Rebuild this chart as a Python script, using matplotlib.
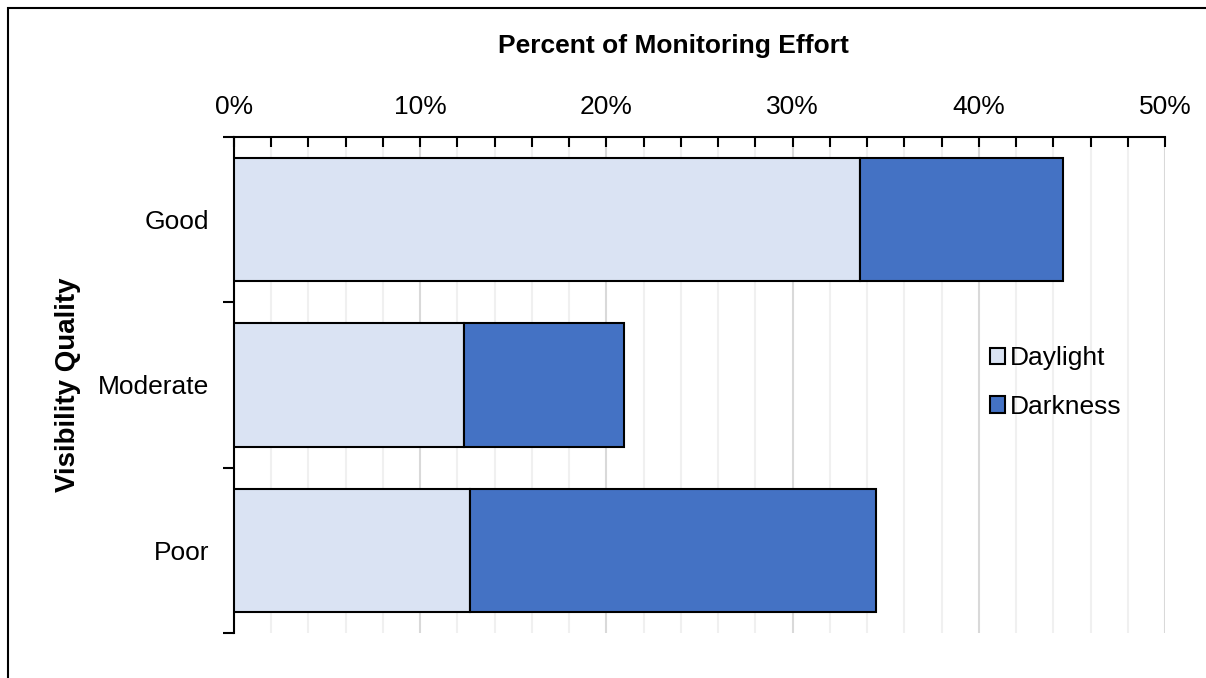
import matplotlib
matplotlib.use("Agg")
import numpy as np
from matplotlib import pyplot as plt
from matplotlib.ticker import MultipleLocator, FuncFormatter, FixedLocator
from matplotlib.patches import Rectangle

plt.rcParams['font.family'] = ['Liberation Sans', 'DejaVu Sans']

categories = ["Good", "Moderate", "Poor"]
daylight = [33.6, 12.35, 12.7]
darkness = [10.9, 8.6, 21.8]
series_names = ["Daylight", "Darkness"]
colors = ["#dae3f3", "#4472c4"]

fs = 19

fig = plt.figure(figsize=(12.06, 6.78), dpi=100)
ax = fig.add_axes([234 / 1206, 1 - 633 / 678, (1165 - 234) / 1206, (633 - 137) / 678])

y = np.arange(len(categories))
ax.barh(y, daylight, height=0.745, color=colors[0], edgecolor="black", linewidth=1.5,
        label=series_names[0], zorder=3)
ax.barh(y, darkness, left=daylight, height=0.745, color=colors[1], edgecolor="black",
        linewidth=1.5, label=series_names[1], zorder=3)

ax.set_xlim(0, 50)
ax.set_ylim(len(categories) - 0.5, -0.5)

# x axis on top
ax.xaxis.tick_top()
ax.xaxis.set_label_position("top")
ax.xaxis.set_major_locator(MultipleLocator(10))
ax.xaxis.set_minor_locator(MultipleLocator(2))
ax.xaxis.set_major_formatter(FuncFormatter(lambda v, p: "%d%%" % v))
ax.tick_params(axis="x", which="both", direction="in", length=7, width=1.5, colors="black",
               labelsize=fs, pad=13)
ax.grid(axis="x", which="major", color="#d9d9d9", linewidth=1.5, zorder=0)
ax.grid(axis="x", which="minor", color="#f0f0f0", linewidth=1.5, zorder=0)
ax.set_xlabel("Percent of Monitoring Effort", fontsize=fs, fontweight="bold")
ax.xaxis.set_label_coords(0.4715, 1.0 + 91 / 496, transform=ax.transAxes)
ax.xaxis.label.set_va("center")

# y axis: boundary ticks, labels centred on bars
ax.yaxis.set_major_locator(FixedLocator(np.arange(-0.5, len(categories), 1.0)))
ax.yaxis.set_major_formatter(FuncFormatter(lambda v, p: ""))
ax.yaxis.set_minor_locator(FixedLocator(y))
ax.set_yticklabels(categories, minor=True)
ax.tick_params(axis="y", which="major", direction="out", length=8, width=1.5)
ax.tick_params(axis="y", which="minor", length=0, labelsize=fs, pad=18)
ax.set_ylabel("Visibility Quality", fontsize=20, fontweight="bold", labelpad=12)

for s in ["right", "bottom"]:
    ax.spines[s].set_visible(False)
for s in ["top", "left"]:
    ax.spines[s].set_linewidth(1.5)

leg = ax.legend(loc="upper left", bbox_to_anchor=(0.812, 0.578), frameon=False, fontsize=fs,
                handlelength=0.57, handleheight=0.57, handletextpad=0.2, labelspacing=0.93,
                borderpad=0, borderaxespad=0)

# outer border of the chart area
fig.patches.append(Rectangle((8 / 1206, -0.1), 1.2, 1 - 8 / 678 + 0.1, transform=fig.transFigure,
                             fill=False, edgecolor="black", linewidth=1.5))

fig.savefig("out.png", dpi=100)
